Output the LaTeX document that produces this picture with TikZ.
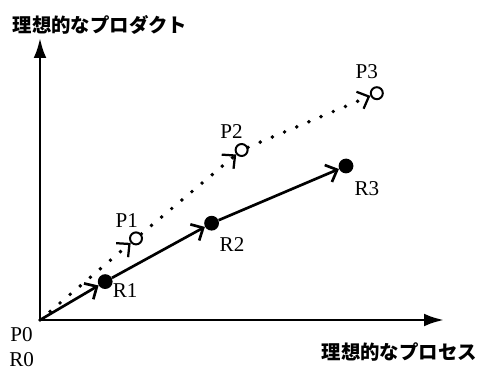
\documentclass[tikz,border=0pt]{standalone}
\usepackage{fontspec}
\setmainfont{Liberation Serif}
\newfontfamily\jpfont{Noto Sans CJK JP}
\usetikzlibrary{positioning,arrows.meta}

\begin{document}
\begin{tikzpicture}[
          axis/.style={line width=2pt, -{Latex[length=5mm,width=3.2mm]}},
          real/.style={circle, fill=black, inner sep=0pt, minimum size=3.7mm},
          ideal/.style={circle, draw=black, line width=1.4pt, fill=white, inner sep=0pt, minimum size=3mm},
          rpath/.style={line width=1.9pt, -{Straight Barb[length=2.4mm,width=4.6mm]}},
          ppath/.style={line width=2.8pt, line cap=round, dash pattern=on 0pt off 3.3mm,
                        -{Straight Barb[length=2.4mm,width=4.6mm,line width=1.6pt]}},
          lbl/.style={font=\fontsize{15}{17}\selectfont},
          axlbl/.style={font=\jpfont\bfseries\fontsize{13.8}{16}\selectfont},
        ]
        \useasboundingbox (-1.0,-1.3) rectangle (11.05,8.0);
        \coordinate (o) at (0,0);
        \coordinate (xend) at (10.1,0);
        \coordinate (yend) at (0,7.05);
        \draw[axis] (o) -- (xend);
        \draw[axis] (o) -- (yend);
        \node[axlbl] (ylab) at (1.5,7.38) {理想的なプロダクト};
        \node[axlbl] (xlab) at (8.98,-0.8) {理想的なプロセス};
        \node[real] (r1) at (1.63,0.96) {};
        \node[real] (r2) at (4.29,2.42) {};
        \node[real] (r3) at (7.65,3.85) {};
        \node[ideal] (p1) at (2.4,2.04) {};
        \node[ideal] (p2) at (5.04,4.25) {};
        \node[ideal] (p3) at (8.42,5.67) {};
        \draw[rpath] (o) -- (r1);
        \draw[rpath] (r1) -- (r2);
        \draw[rpath] (r2) -- (r3);
        \draw[ppath] (o) -- (p1);
        \draw[ppath] (p1) -- (p2);
        \draw[ppath] (p2) -- (p3);
        \node[lbl] (p0lab) at (-0.46,-0.36) {P0};
        \node[lbl] (r0lab) at (-0.46,-1.0) {R0};
        \node[lbl] (r1lab) at (2.13,0.73) {R1};
        \node[lbl] (r2lab) at (4.8,1.88) {R2};
        \node[lbl] (r3lab) at (8.17,3.29) {R3};
        \node[lbl] (p1lab) at (2.17,2.48) {P1};
        \node[lbl] (p2lab) at (4.79,4.71) {P2};
        \node[lbl] (p3lab) at (8.17,6.21) {P3};
      \end{tikzpicture}
\end{document}
